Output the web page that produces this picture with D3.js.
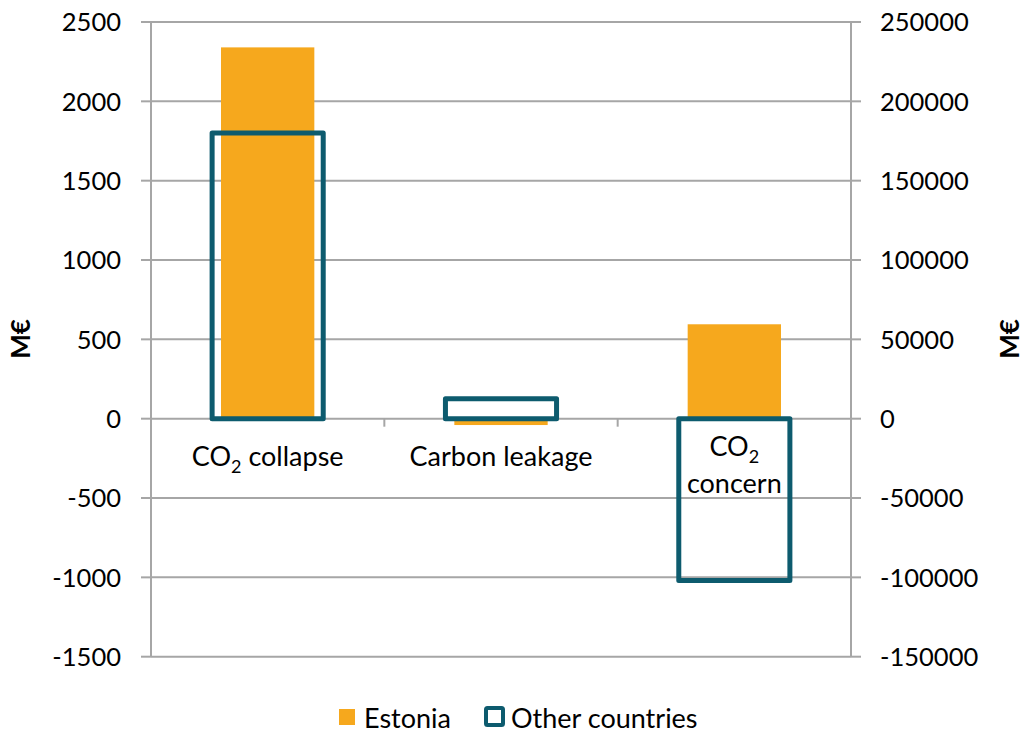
<!DOCTYPE html>
<html><head><meta charset="utf-8">
<script src="https://cdn.jsdelivr.net/npm/d3@7"></script>
<style>body{margin:0;background:#fff}svg{display:block}text{font-family:Lato,"Open Sans",sans-serif;fill:#000}</style>
</head><body><svg id="c" width="1026" height="733"></svg>
<script>
const categories = ["CO2 collapse","Carbon leakage","CO2 concern"];
const estonia = [2340, -40, 595];
const otherCountries = [180000, 12500, -102000];
const leftTicks = [-1500,-1000,-500,0,500,1000,1500,2000,2500];
const rightTicks = [-150000,-100000,-50000,0,50000,100000,150000,200000,250000];
const seriesNames = ["Estonia","Other countries"];

const svg = d3.select("#c");
const L = 151, R = 851, T = 22, B = 656.7;
const orange = "#F6A81D", teal = "#0D5B6E", grid = "#A6A6A6";
const numSize = 25.5, txtSize = 27;
const yL = d3.scaleLinear().domain([-1500,2500]).range([B,T]);
const yR = d3.scaleLinear().domain([-150000,250000]).range([B,T]);
const x = d3.scaleBand().domain(categories).range([L,R]).paddingInner(0).paddingOuter(0);
const bw = x.bandwidth();

// gridlines
svg.append("g").selectAll("line").data(leftTicks).join("line")
  .attr("x1",L).attr("x2",R).attr("y1",d=>yL(d)).attr("y2",d=>yL(d))
  .attr("stroke",grid).attr("stroke-width",2);
// axes lines
svg.append("line").attr("x1",L).attr("x2",L).attr("y1",T).attr("y2",B).attr("stroke",grid).attr("stroke-width",2);
svg.append("line").attr("x1",R).attr("x2",R).attr("y1",T).attr("y2",B).attr("stroke",grid).attr("stroke-width",2);
// ticks
svg.append("g").selectAll("line").data(leftTicks).join("line")
  .attr("x1",L-10).attr("x2",L).attr("y1",d=>yL(d)).attr("y2",d=>yL(d)).attr("stroke",grid).attr("stroke-width",2);
svg.append("g").selectAll("line").data(rightTicks).join("line")
  .attr("x1",R).attr("x2",R+10).attr("y1",d=>yR(d)).attr("y2",d=>yR(d)).attr("stroke",grid).attr("stroke-width",2);
// category ticks on zero line
const catEdges = [L, ...categories.map(c=>x(c)+bw)];
svg.append("g").selectAll("line").data(catEdges).join("line")
  .attr("x1",d=>d).attr("x2",d=>d).attr("y1",yL(0)).attr("y2",yL(0)+8).attr("stroke",grid).attr("stroke-width",2);

// tick labels
svg.append("g").selectAll("text").data(leftTicks).join("text")
  .attr("x",121).attr("y",d=>yL(d)).attr("dy","0.36em").attr("text-anchor","end")
  .attr("font-size",numSize).text(d=>d);
svg.append("g").selectAll("text").data(rightTicks).join("text")
  .attr("x",880).attr("y",d=>yR(d)).attr("dy","0.36em").attr("text-anchor","start")
  .attr("font-size",numSize).text(d=>d);

// axis titles
svg.append("text").attr("transform","translate(30,339) rotate(-90)").attr("text-anchor","middle")
  .attr("font-size",26).attr("font-weight","bold").text("M€");
svg.append("text").attr("transform","translate(1019,339) rotate(-90)").attr("text-anchor","middle")
  .attr("font-size",26).attr("font-weight","bold").text("M€");

// Estonia bars (gap 150%)
const ew = bw/2.5;
svg.append("g").selectAll("rect").data(estonia).join("rect")
  .attr("x",(d,i)=>x(categories[i])+bw/2-ew/2).attr("width",ew)
  .attr("y",d=>Math.min(yL(d),yL(0))).attr("height",d=>Math.abs(yL(d)-yL(0)))
  .attr("fill",orange);

// category labels
function co2(sel, cx, y, rest){
  const t = sel.append("text").attr("x",cx).attr("y",y).attr("text-anchor","middle").attr("font-size",txtSize);
  t.append("tspan").text("CO");
  t.append("tspan").attr("font-size",18).attr("dy",7).text("2");
  if(rest) t.append("tspan").attr("dy",-7).text(" "+rest);
}
const lg = svg.append("g");
co2(lg, x(categories[0])+bw/2, 466, "collapse");
lg.append("text").attr("x",x(categories[1])+bw/2).attr("y",466).attr("text-anchor","middle").attr("font-size",txtSize).text("Carbon leakage");
co2(lg, x(categories[2])+bw/2, 456, null);
lg.append("text").attr("x",x(categories[2])+bw/2).attr("y",493).attr("text-anchor","middle").attr("font-size",txtSize).text("concern");

// Other countries outlined bars (gap 110%)
const ow = bw/2.1;
svg.append("g").selectAll("rect").data(otherCountries).join("rect")
  .attr("x",(d,i)=>x(categories[i])+bw/2-ow/2).attr("width",ow)
  .attr("y",d=>Math.min(yR(d),yR(0))).attr("height",d=>Math.abs(yR(d)-yR(0)))
  .attr("fill","none").attr("stroke",teal).attr("stroke-width",5).attr("stroke-linejoin","round");

// legend
const leg = svg.append("g");
leg.append("rect").attr("x",339).attr("y",709).attr("width",16).attr("height",16).attr("fill",orange);
leg.append("text").attr("x",364).attr("y",718).attr("dy","0.36em").attr("font-size",txtSize).text(seriesNames[0]);
leg.append("rect").attr("x",486).attr("y",708).attr("width",17).attr("height",17).attr("fill","#fff")
  .attr("stroke",teal).attr("stroke-width",4).attr("rx",1.5);
leg.append("text").attr("x",511).attr("y",718).attr("dy","0.36em").attr("font-size",txtSize).text(seriesNames[1]);
</script></body></html>
